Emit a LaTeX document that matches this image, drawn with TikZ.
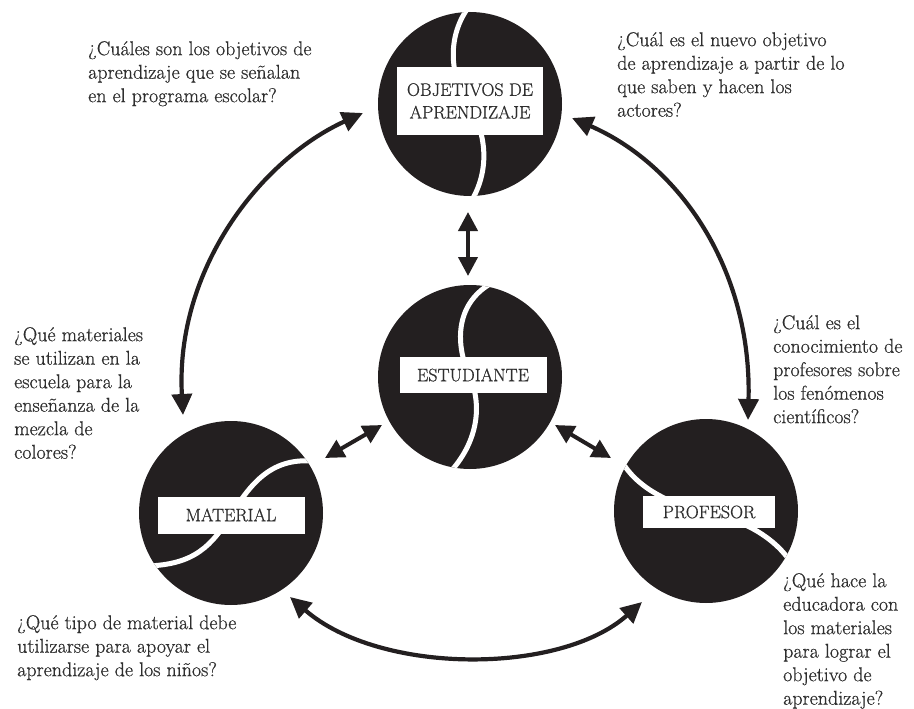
\documentclass[tikz,border=0pt]{standalone}
\usepackage{fontspec}
\setmainfont{Latin Modern Roman}[FakeBold=0.7]
\usetikzlibrary{arrows.meta}
\definecolor{ink}{HTML}{231F20}
\definecolor{txt}{HTML}{2E2E2E}
\begin{document}
\begin{tikzpicture}[x=1pt,y=-1pt,
  ball/.style={circle,fill=ink,inner sep=0pt,minimum size=184pt},
  cut/.style={white,line width=5pt},
  lab/.style={fill=white,text=txt,inner sep=0pt,align=center,font=\fontsize{18}{22.7}\selectfont},
  q/.style={anchor=north west,inner sep=0pt,align=left,text=txt,font=\fontsize{20}{23.5}\selectfont},
  dbl/.style={{Triangle[length=21pt,width=20pt]}-{Triangle[length=21pt,width=20pt]},line width=4.2pt,draw=ink},
  sdbl/.style={{Triangle[length=19pt,width=19pt]}-{Triangle[length=19pt,width=19pt]},line width=4pt,draw=ink}]
\useasboundingbox (0,0) rectangle (914,709);

% circles
\node[ball] (obj) at (470,104) {};
\node[ball] (est) at (470,377) {};
\node[ball] (mat) at (231,513) {};
\node[ball] (pro) at (706,511) {};

% white S cuts
\begin{scope}
\clip (470,104) circle[radius=92pt];
\draw[cut] (468,8) .. controls (445,40) and (452,80) .. (468,104) .. controls (484,128) and (492,165) .. (472,200);
\end{scope}
\begin{scope}
\clip (470,377) circle[radius=92pt];
\draw[cut] (490,284) .. controls (455,305) and (455,345) .. (470,377) .. controls (482,405) and (478,440) .. (452,470);
\end{scope}
\begin{scope}
\clip (231,513) circle[radius=92pt];
\draw[cut] (312,461) .. controls (270,458) and (250,485) .. (231,515) .. controls (212,545) and (195,565) .. (146,566);
\end{scope}
\begin{scope}
\clip (706,511) circle[radius=92pt];
\draw[cut] (620,458) .. controls (635,488) and (672,505) .. (706,512) .. controls (740,519) and (772,535) .. (790,561);
\end{scope}

% label boxes
\node[lab,minimum width=146pt,minimum height=68pt] (objl) at (470,101) {OBJETIVOS DE\\APRENDIZAJE};
\node[lab,minimum width=147pt,minimum height=36pt] (estl) at (473,375) {ESTUDIANTE};
\node[lab,minimum width=147pt,minimum height=37pt] (matl) at (231,515) {MATERIAL};
\node[lab,minimum width=132pt,minimum height=32pt] (prol) at (709,512) {PROFESOR};

% arrow end points
\coordinate (a1) at (183,415);
\coordinate (a2) at (363,113);
\coordinate (b1) at (572,118);
\coordinate (b2) at (748,420);
\coordinate (c1) at (290,597);
\coordinate (c2) at (642,602);
\coordinate (d1) at (468,212);
\coordinate (d2) at (468,276);
\coordinate (e1) at (325,458);
\coordinate (e2) at (382,425);
\coordinate (f1) at (555,425);
\coordinate (f2) at (611,458);

\draw[dbl] (a1) .. controls (175,270) and (260,160) .. (a2);
\draw[dbl] (b1) .. controls (680,165) and (752,270) .. (b2);
\draw[dbl] (c1) .. controls (380,675) and (560,675) .. (c2);
\draw[sdbl] (d1) -- (d2);
\draw[sdbl] (e1) -- (e2);
\draw[sdbl] (f1) -- (f2);

% questions
\node[q] (qtl) at (88,41) {¿Cuáles son los objetivos de\\aprendizaje que se señalan\\en el programa escolar?};
\node[q] (qtr) at (617,32) {¿Cuál es el nuevo objetivo\\de aprendizaje a partir de lo\\que saben y hacen los\\actores?};
\node[q] (qml) at (14,327) {¿Qué materiales\\se utilizan en la\\escuela para la\\enseñanza de la\\mezcla de\\colores?};
\node[q] (qmr) at (773,315) {¿Cuál es el\\conocimiento de\\profesores sobre\\los fenómenos\\científicos?};
\node[q] (qbl) at (17,615) {¿Qué tipo de material debe\\utilizarse para apoyar el\\aprendizaje de los niños?};
\node[q] (qbr) at (783,573) {¿Qué hace la\\educadora con\\los materiales\\para lograr el\\objetivo de\\aprendizaje?};
\end{tikzpicture}
\end{document}
